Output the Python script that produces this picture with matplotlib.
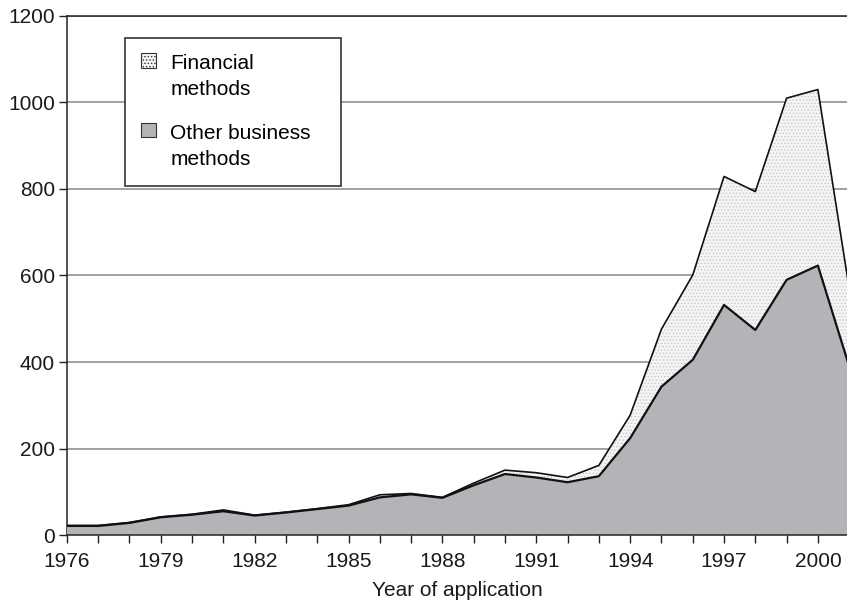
import numpy as np
import matplotlib.pyplot as plt
from matplotlib.patches import Patch, Rectangle
from matplotlib.legend_handler import HandlerPatch
from matplotlib.ticker import FixedLocator, MultipleLocator

## Data
years = np.arange(1976, 2002)
other = [21, 21, 28, 41, 47, 55, 45, 52, 60, 68, 87, 94, 86, 115, 141, 133, 122, 136,
         224, 343, 405, 532, 474, 590, 623, 390]
total = [22, 22, 29, 42, 48, 58, 46, 53, 61, 70, 93, 96, 87, 120, 150, 144, 133, 161,
         277, 476, 601, 829, 794, 1010, 1030, 570]
year_ticks = list(range(1976, 2001, 3))
legend_labels = ['Financial\nmethods', 'Other business\nmethods']

other = np.array(other)
total = np.array(total)

plt.rcParams['font.family'] = ['Liberation Sans', 'DejaVu Sans']
plt.rcParams['hatch.color'] = '#c8c8c8'
plt.rcParams['hatch.linewidth'] = 0.6


# legend square sits next to the first line of a two-line label
class TopSquare(HandlerPatch):
    def create_artists(self, legend, orig_handle, xdescent, ydescent,
                       width, height, fontsize, trans):
        p = Rectangle((-xdescent, -ydescent + 0.8 * fontsize), width, height)
        self.update_prop(p, orig_handle, legend)
        p.set_transform(trans)
        return [p]


fig = plt.figure(figsize=(8.47, 6.01), dpi=100)
ax = fig.add_axes([0.079, 0.1098, 0.921, 0.8636])

# stacked areas
ax.fill_between(years, other, total, facecolor='#f5f5f5', hatch='.....', linewidth=0, zorder=2)
ax.fill_between(years, 0, other, facecolor='#b3b4b7', linewidth=0, zorder=3)
ax.plot(years, total, color='#111111', lw=1.2, zorder=4)
ax.plot(years, other, color='#111111', lw=1.6, zorder=5)

## Axes
ax.set_xlim(1976, 2000.93)
ax.set_ylim(0, 1200)
ax.xaxis.set_major_locator(FixedLocator(year_ticks))
ax.xaxis.set_minor_locator(MultipleLocator(1))
ax.yaxis.set_major_locator(MultipleLocator(200))
ax.tick_params(axis='both', which='both', direction='out', length=5.5, width=1,
               color='#222222', labelsize=15, labelcolor='#1a1a1a')
ax.tick_params(axis='x', which='major', pad=7)
ax.tick_params(axis='y', pad=3)
ax.grid(axis='y', color='#9a9a9a', lw=1.3, zorder=1)
ax.set_axisbelow(True)

ax.spines['right'].set_visible(False)
for s in ['left', 'bottom', 'top']:
    ax.spines[s].set_color('#222222')
    ax.spines[s].set_linewidth(1.1)
ax.spines['bottom'].set_zorder(6)

ax.set_xlabel('Year of application', fontsize=15, color='#1a1a1a', labelpad=7)

## Legend
handles = [Patch(facecolor='#f5f5f5', edgecolor='#333333', hatch='.....', lw=0.8),
           Patch(facecolor='#b3b4b7', edgecolor='#333333', lw=0.8)]
leg = ax.legend(handles, legend_labels, loc='upper left',
                bbox_to_anchor=(0.074, 0.67, 0.277, 0.288), mode='expand',
                fontsize=15, frameon=True, fancybox=False, framealpha=1,
                edgecolor='#222222', handlelength=0.7, handleheight=0.7,
                handletextpad=0.7, labelspacing=1.2, borderpad=0.8,
                borderaxespad=0, handler_map={Patch: TopSquare()})
for t in leg.get_texts():
    t.set_linespacing(1.45)
leg.get_frame().set_linewidth(1.1)
leg.set_zorder(7)

fig.savefig('out.png', dpi=100)
